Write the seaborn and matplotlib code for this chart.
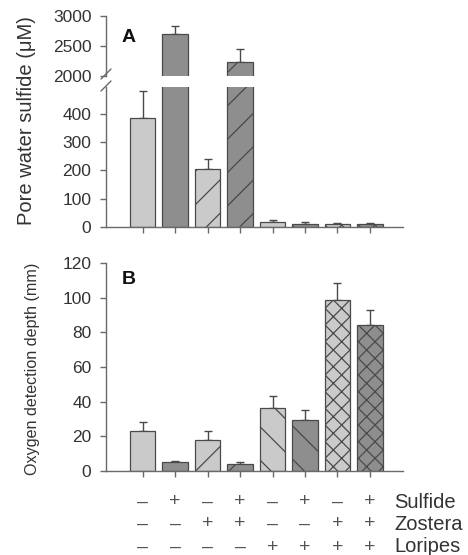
import matplotlib
matplotlib.use("Agg")
import matplotlib.pyplot as plt
import matplotlib.transforms as mtransforms
import numpy as np
import pandas as pd
import seaborn as sns

# Treatment combinations (8 groups)
groups = ["1", "2", "3", "4", "5", "6", "7", "8"]
sulfide_row = ["–", "+", "–", "+", "–", "+", "–", "+"]
zostera_row = ["–", "–", "+", "+", "–", "–", "+", "+"]
loripes_row = ["–", "–", "–", "–", "+", "+", "+", "+"]
row_names = ["Sulfide", "Zostera", "Loripes"]

# Pore water sulfide (uM), mean and SE
sulfide_mean = [385, 2695, 205, 2235, 18, 12, 10, 12]
sulfide_se = [95, 140, 36, 215, 5, 4, 3, 3]

# Oxygen detection depth (mm), mean and SE
oxygen_mean = [23, 5, 18, 4, 36.5, 29.2, 98.5, 84.2]
oxygen_se = [5.5, 1, 5, 1, 7, 6, 10, 8.7]

light = "#cacaca"
dark = "#8e8e8e"
colors = [light, dark] * 4
hatches = ["", "", "/", "/", "\\", "\\", "xx", "xx"]
edge = "#4a4a4a"
axis_col = "#6a6a6a"
text_col = "#333333"

sns.set_theme(style="ticks")
plt.rcParams["font.family"] = ["Liberation Sans", "DejaVu Sans"]
plt.rcParams["hatch.color"] = "#3c3c3c"
plt.rcParams["hatch.linewidth"] = 0.9

W, H = 468, 555
fig = plt.figure(figsize=(W / 100, H / 100), dpi=100)


def fx(px):
    return px / W


def fy(py):
    return 1 - py / H


x_left, x_right = 106, 403
ax_top = fig.add_axes([fx(x_left), fy(76), fx(x_right - x_left), fy(16) - fy(76)])
ax_low = fig.add_axes([fx(x_left), fy(227), fx(x_right - x_left), fy(87) - fy(227)])
ax_b = fig.add_axes([fx(x_left), fy(471), fx(x_right - x_left), fy(263) - fy(471)])

xlim = (-1.13, 8.02)


def draw_bars(ax, mean, se):
    df = pd.DataFrame({"group": groups, "value": mean})
    sns.barplot(data=df, x="group", y="value", hue="group", palette=colors,
                legend=False, width=0.78, edgecolor=edge, linewidth=0.9,
                saturation=1, errorbar=None, ax=ax, zorder=2)
    for patch, h in zip(ax.patches, hatches):
        patch.set_hatch(h)
    xs = np.arange(len(groups))
    ax.errorbar(xs, mean, yerr=[np.zeros(len(se)), se], fmt="none",
                ecolor=edge, elinewidth=1.0, capsize=3, capthick=1.0, zorder=1)
    ax.set_xlim(*xlim)
    ax.set_xlabel("")
    ax.set_ylabel("")


def style_axis(ax):
    for s in ["top", "right"]:
        ax.spines[s].set_visible(False)
    for s in ["left", "bottom"]:
        ax.spines[s].set_color(axis_col)
        ax.spines[s].set_linewidth(1.0)
    ax.tick_params(axis="both", colors=axis_col, labelcolor=text_col,
                   labelsize=12.5, length=4, width=1.0, direction="out")
    ax.tick_params(axis="y", pad=6.5)


# Panel A, split into two y ranges
draw_bars(ax_top, sulfide_mean, sulfide_se)
draw_bars(ax_low, sulfide_mean, sulfide_se)
ax_top.set_ylim(2000, 3000)
ax_top.set_yticks([2000, 2500, 3000])
ax_low.set_ylim(0, 494)
ax_low.set_yticks([0, 100, 200, 300, 400])
for ax in (ax_top, ax_low):
    style_axis(ax)
ax_top.spines["bottom"].set_visible(False)
ax_top.tick_params(axis="x", bottom=False, labelbottom=False)
ax_low.tick_params(axis="x", labelbottom=False)

# Break marks on the left spine
for yb in (74, 86):
    fig.add_artist(plt.Line2D([fx(101), fx(111)], [fy(yb + 5), fy(yb - 5)],
                              color=axis_col, lw=1.0))

# Panel B
draw_bars(ax_b, oxygen_mean, oxygen_se)
ax_b.set_ylim(0, 120)
ax_b.set_yticks(range(0, 121, 20))
style_axis(ax_b)
ax_b.tick_params(axis="x", labelbottom=False)

# Panel letters and axis titles
fig.text(fx(122), fy(38), "A", fontsize=14, fontweight="bold", color="#111111",
         ha="left", va="center")
fig.text(fx(122), fy(280), "B", fontsize=14, fontweight="bold", color="#111111",
         ha="left", va="center")
fig.text(fx(27), fy(121), "Pore water sulfide (μM)", rotation=90, fontsize=14.5,
         color=text_col, ha="center", va="center")
fig.text(fx(33), fy(369), "Oxygen detection depth (mm)", rotation=90, fontsize=11.6,
         color=text_col, ha="center", va="center")

# Treatment table under panel B
trans = mtransforms.blended_transform_factory(ax_b.transData, fig.transFigure)
rows = [sulfide_row, zostera_row, loripes_row]
row_y = [502, 524, 547]
for row, name, py in zip(rows, row_names, row_y):
    for i, sym in enumerate(row):
        ax_b.text(i, fy(py), sym, transform=trans, ha="center", va="center",
                  fontsize=14, color="#555555")
    fig.text(fx(394), fy(py), name, ha="left", va="center", fontsize=14.5,
             color=text_col)

fig.savefig("out.png", dpi=100)
